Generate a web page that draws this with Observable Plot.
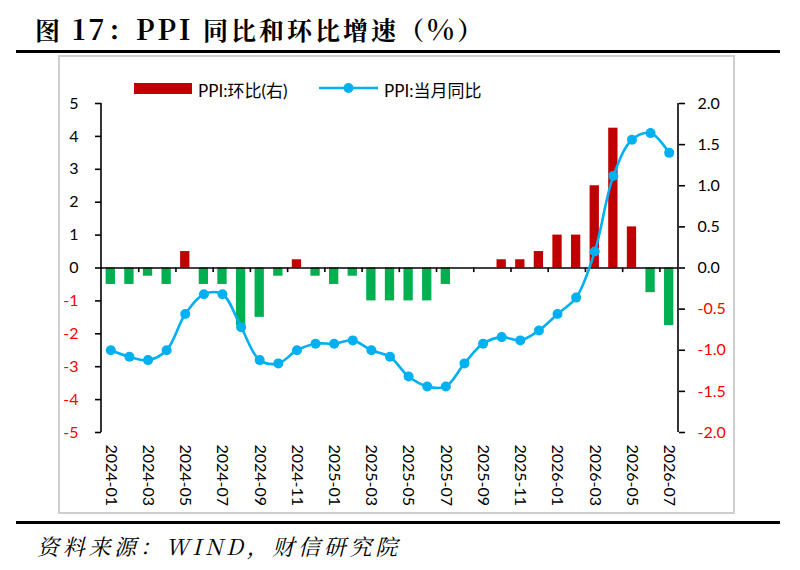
<!DOCTYPE html>
<html>
<head>
<meta charset="utf-8">
<script src="https://cdn.jsdelivr.net/npm/d3@7"></script>
<script src="https://cdn.jsdelivr.net/npm/@observablehq/plot@0.6"></script>
<style>
  body { margin: 0; background: #fff; }
  #wrap { position: relative; width: 800px; height: 570px; background: #fff; overflow: hidden; }
  .abs { position: absolute; }
  #title { left: 35px; top: 8px; font: bold 25px "Noto Serif CJK SC", "Liberation Serif", "Noto Sans CJK SC", serif; letter-spacing: 3px; color: #000; white-space: nowrap; }
  #title .lat { font-size: 28px; }
  #source { left: 37px; top: 530px; font: italic 22px "Noto Serif CJK SC", "Liberation Serif", "Noto Sans CJK SC", serif; letter-spacing: 3.7px; color: #000; white-space: nowrap; }
  .rule { background: #000; height: 3px; }
  #box { left: 58px; top: 55px; width: 673px; height: 455px; border: 2px solid #cfcfcf; }
  .leg { font: 17px Lato, "Noto Sans CJK SC", sans-serif; color: #000; white-space: nowrap; }
</style>
</head>
<body>
<div id="wrap">
  <div id="title" class="abs">图 <span class="lat">17</span>：<span class="lat">PPI</span> 同比和环比增速（<span class="lat">%</span>）</div>
  <div class="abs rule" style="left:16px;top:50px;width:764px;"></div>
  <div id="box" class="abs"></div>
  <div id="chart" class="abs" style="left:0;top:55px;"></div>
  <div class="abs" style="left:134px;top:83px;width:58px;height:11px;background:#C00000;"></div>
  <div class="abs leg" style="left:198px;top:77px;">PPI:环比(右)</div>
  <svg class="abs" style="left:319px;top:80px;" width="60" height="16">
    <line x1="0" y1="8" x2="59" y2="8" stroke="#00B0F0" stroke-width="2.5"></line>
    <circle cx="29.5" cy="8" r="5" fill="#00B0F0"></circle>
  </svg>
  <div class="abs leg" style="left:384px;top:77px;">PPI:当月同比</div>
  <div class="abs rule" style="left:16px;top:521px;width:764px;"></div>
  <div id="source" class="abs">资料来源：WIND，财信研究院</div>
</div>
<script>
const months = [
  "2024-01","2024-02","2024-03","2024-04","2024-05","2024-06","2024-07","2024-08","2024-09","2024-10","2024-11","2024-12",
  "2025-01","2025-02","2025-03","2025-04","2025-05","2025-06","2025-07","2025-08","2025-09","2025-10","2025-11","2025-12",
  "2026-01","2026-02","2026-03","2026-04","2026-05","2026-06","2026-07"
];
// PPI 当月同比 (left axis, %)
const yoy = [-2.5,-2.7,-2.8,-2.5,-1.4,-0.8,-0.8,-1.8,-2.8,-2.9,-2.5,-2.3,
             -2.3,-2.2,-2.5,-2.7,-3.3,-3.6,-3.6,-2.9,-2.3,-2.1,-2.2,-1.9,
             -1.4,-0.9,0.5,2.8,3.9,4.1,3.5];
// PPI 环比 (right axis, %)
const mom = [-0.2,-0.2,-0.1,-0.2,0.2,-0.2,-0.2,-0.7,-0.6,-0.1,0.1,-0.1,
             -0.2,-0.1,-0.4,-0.4,-0.4,-0.4,-0.2,0.0,0.0,0.1,0.1,0.2,
             0.4,0.4,1.0,1.7,0.5,-0.3,-0.7];
const leftTicks = [-5,-4,-3,-2,-1,0,1,2,3,4,5];
const rightTicks = [-2.0,-1.5,-1.0,-0.5,0.0,0.5,1.0,1.5,2.0];
const xLabels = months.filter((m, i) => i % 2 === 0);
const xTickBounds = months.filter((m, i) => i > 0 && i % 2 === 0);

const ratio = 5 / 2; // right axis 2.0 <-> left axis 5
const data = months.map((m, i) => ({month: m, yoy: yoy[i], mom: mom[i], momL: mom[i] * ratio}));
const pos = data.filter(d => d.mom > 0);
const neg = data.filter(d => d.mom < 0);

const font = 'Lato, "Noto Sans CJK SC", sans-serif';
const plotW = 800, mL = 101, mR = 122;
const step = (plotW - mL - mR) / months.length;

const axisLines = (index, scales, values, dims) => {
  const g = d3.create("svg:g").attr("stroke", "#000").attr("stroke-width", 1.6);
  const y0 = scales.y(5), y1 = scales.y(-5);
  g.append("line").attr("x1", dims.marginLeft).attr("x2", dims.marginLeft).attr("y1", y0).attr("y2", y1);
  const xr = dims.width - dims.marginRight;
  g.append("line").attr("x1", xr).attr("x2", xr).attr("y1", y0).attr("y2", y1);
  return g.node();
};

const chart = Plot.plot({
  width: plotW,
  height: 459,
  marginLeft: mL,
  marginRight: mR,
  marginTop: 48,
  marginBottom: 82,
  style: {fontFamily: font, fontSize: "16px", background: "transparent"},
  x: {type: "band", domain: months, paddingInner: 0.5, paddingOuter: 0.25, round: false, axis: null},
  y: {domain: [-5, 5], axis: null},
  marks: [
    Plot.barY(pos, {x: "month", y: "momL", fill: "#C00000"}),
    Plot.barY(neg, {x: "month", y: "momL", fill: "#00B050"}),
    Plot.ruleY([0], {stroke: "#000", strokeWidth: 1.6}),
    Plot.ruleX(xTickBounds, {x: d => d, y1: 0, y2: -0.14, dx: -step / 2, stroke: "#000", strokeWidth: 1.6}),
    Plot.line(data, {x: "month", y: "yoy", stroke: "#00B0F0", strokeWidth: 2.6, curve: "catmull-rom"}),
    Plot.dot(data, {x: "month", y: "yoy", r: 5, fill: "#00B0F0"}),
    axisLines,
    Plot.axisY(leftTicks.filter(t => t >= 0), {anchor: "left", tickSize: 6, tickPadding: 17, stroke: "#000", fill: "#000", strokeWidth: 1.6, tickFormat: d => String(d), fontSize: 16}),
    Plot.axisY(leftTicks.filter(t => t < 0), {anchor: "left", tickSize: 6, tickPadding: 17, stroke: "#000", fill: "#FF0000", strokeWidth: 1.6, tickFormat: d => String(d), fontSize: 16}),
    Plot.axisY(rightTicks.filter(t => t >= 0).map(t => t * ratio), {anchor: "right", tickSize: 6, tickPadding: 13, stroke: "#000", fill: "#000", strokeWidth: 1.6, tickFormat: d => (d / ratio).toFixed(1), fontSize: 16}),
    Plot.axisY(rightTicks.filter(t => t < 0).map(t => t * ratio), {anchor: "right", tickSize: 6, tickPadding: 13, stroke: "#000", fill: "#FF0000", strokeWidth: 1.6, tickFormat: d => (d / ratio).toFixed(1), fontSize: 16}),
    Plot.axisX(xLabels, {anchor: "bottom", tickSize: 0, tickPadding: 12, tickRotate: 90, fill: "#000", fontSize: 16, label: null})
  ]
});
document.getElementById("chart").appendChild(chart);
</script>
</body>
</html>
